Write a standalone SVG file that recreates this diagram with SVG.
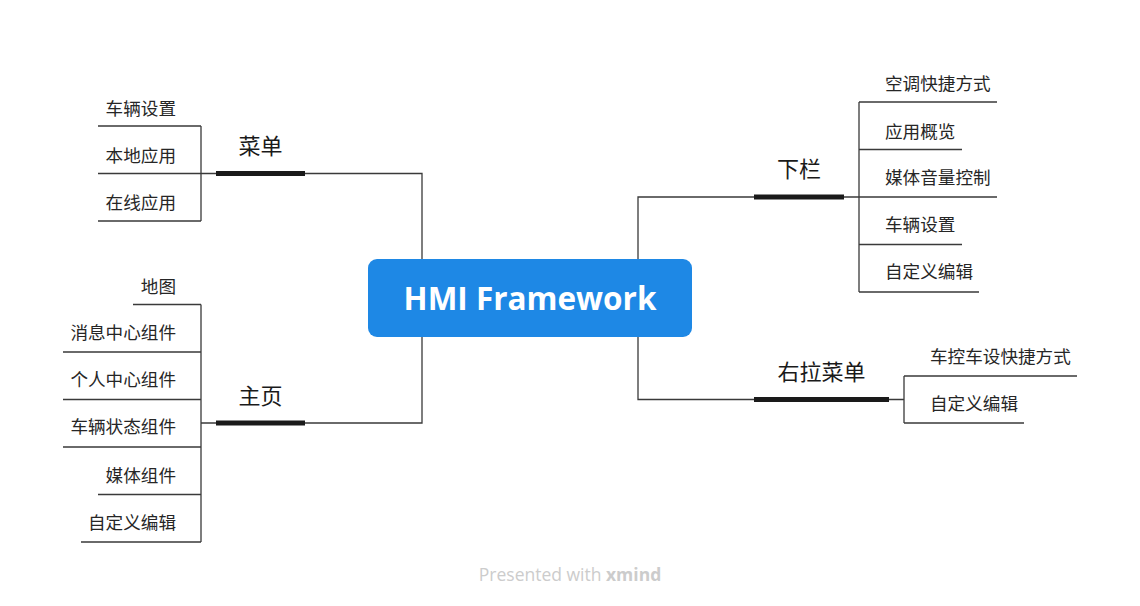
<svg xmlns="http://www.w3.org/2000/svg" width="1140" height="606" viewBox="0 0 1140 606">
<style>
.thin{fill:none;stroke:#3a3a3a;stroke-width:1.3}
.bar{stroke:#1a1a1a;stroke-width:5}
.sub{font-family:"Noto Sans CJK SC","Noto Sans",sans-serif;font-size:17.6px;fill:#262626}
.main{font-family:"Noto Sans CJK SC","Noto Sans",sans-serif;font-size:22px;fill:#1a1a1a}
.end{text-anchor:end}
</style>
<rect width="1140" height="606" fill="#ffffff"/>
<g id="connectors">
<path class="thin" d="M422,259 V173.5 H305 M216,173.5 H201"/>
<path class="thin" d="M201,126 V221 M98,126 H201 M98,173.5 H201 M98,221 H201"/>
<path class="thin" d="M422,337 V423 H305 M216,423 H201"/>
<path class="thin" d="M201,304.5 V542 M133,304.5 H201 M63,352 H201 M63,399.5 H201 M63,447 H201 M98,494.5 H201 M81,542 H201"/>
<path class="thin" d="M638,259 V197 H754 M844,197 H859"/>
<path class="thin" d="M859,102 V292 M859,102 H997 M859,149.5 H962 M859,197 H997 M859,244.5 H962 M859,292 H979"/>
<path class="thin" d="M638,337 V399.5 H754 M889,399.5 H904"/>
<path class="thin" d="M904,376 V423 M904,376 H1077 M904,423 H1024"/>
</g>
<g id="root">
<rect x="368" y="259" width="324" height="78" rx="9" fill="#1e88e5"/>
<text x="530" y="310" text-anchor="middle" font-family="'Open Sans','Noto Sans',sans-serif" font-weight="bold" font-size="31.5" fill="#ffffff">HMI Framework</text>
</g>
<g id="node-caidan">
<line class="bar" x1="216" y1="173.5" x2="305" y2="173.5"/>
<text class="main" x="260.5" y="153.5" text-anchor="middle">菜单</text>
</g>
<g id="node-caidan-1"><text class="sub end" x="176" y="114.5">车辆设置</text></g>
<g id="node-caidan-2"><text class="sub end" x="176" y="162">本地应用</text></g>
<g id="node-caidan-3"><text class="sub end" x="176" y="209">在线应用</text></g>
<g id="node-zhuye">
<line class="bar" x1="216" y1="423" x2="305" y2="423"/>
<text class="main" x="260.5" y="403.5" text-anchor="middle">主页</text>
</g>
<g id="node-zhuye-1"><text class="sub end" x="176" y="293">地图</text></g>
<g id="node-zhuye-2"><text class="sub end" x="176" y="339">消息中心组件</text></g>
<g id="node-zhuye-3"><text class="sub end" x="176" y="386">个人中心组件</text></g>
<g id="node-zhuye-4"><text class="sub end" x="176" y="433">车辆状态组件</text></g>
<g id="node-zhuye-5"><text class="sub end" x="176" y="482">媒体组件</text></g>
<g id="node-zhuye-6"><text class="sub end" x="176" y="529">自定义编辑</text></g>
<g id="node-xialan">
<line class="bar" x1="754" y1="197" x2="844" y2="197"/>
<text class="main" x="799" y="176.5" text-anchor="middle">下栏</text>
</g>
<g id="node-xialan-1"><text class="sub" x="885" y="90">空调快捷方式</text></g>
<g id="node-xialan-2"><text class="sub" x="885" y="138">应用概览</text></g>
<g id="node-xialan-3"><text class="sub" x="885" y="184">媒体音量控制</text></g>
<g id="node-xialan-4"><text class="sub" x="885" y="231">车辆设置</text></g>
<g id="node-xialan-5"><text class="sub" x="885" y="278">自定义编辑</text></g>
<g id="node-youla">
<line class="bar" x1="754" y1="399.5" x2="889" y2="399.5"/>
<text class="main" x="821.5" y="380" text-anchor="middle">右拉菜单</text>
</g>
<g id="node-youla-1"><text class="sub" x="930" y="363">车控车设快捷方式</text></g>
<g id="node-youla-2"><text class="sub" x="930" y="410">自定义编辑</text></g>
<g id="footer">
<text x="570" y="581" text-anchor="middle" font-family="'Open Sans','Noto Sans',sans-serif" font-size="17.5" fill="#cccccc">Presented with <tspan font-weight="bold">xmind</tspan></text>
</g>
</svg>
